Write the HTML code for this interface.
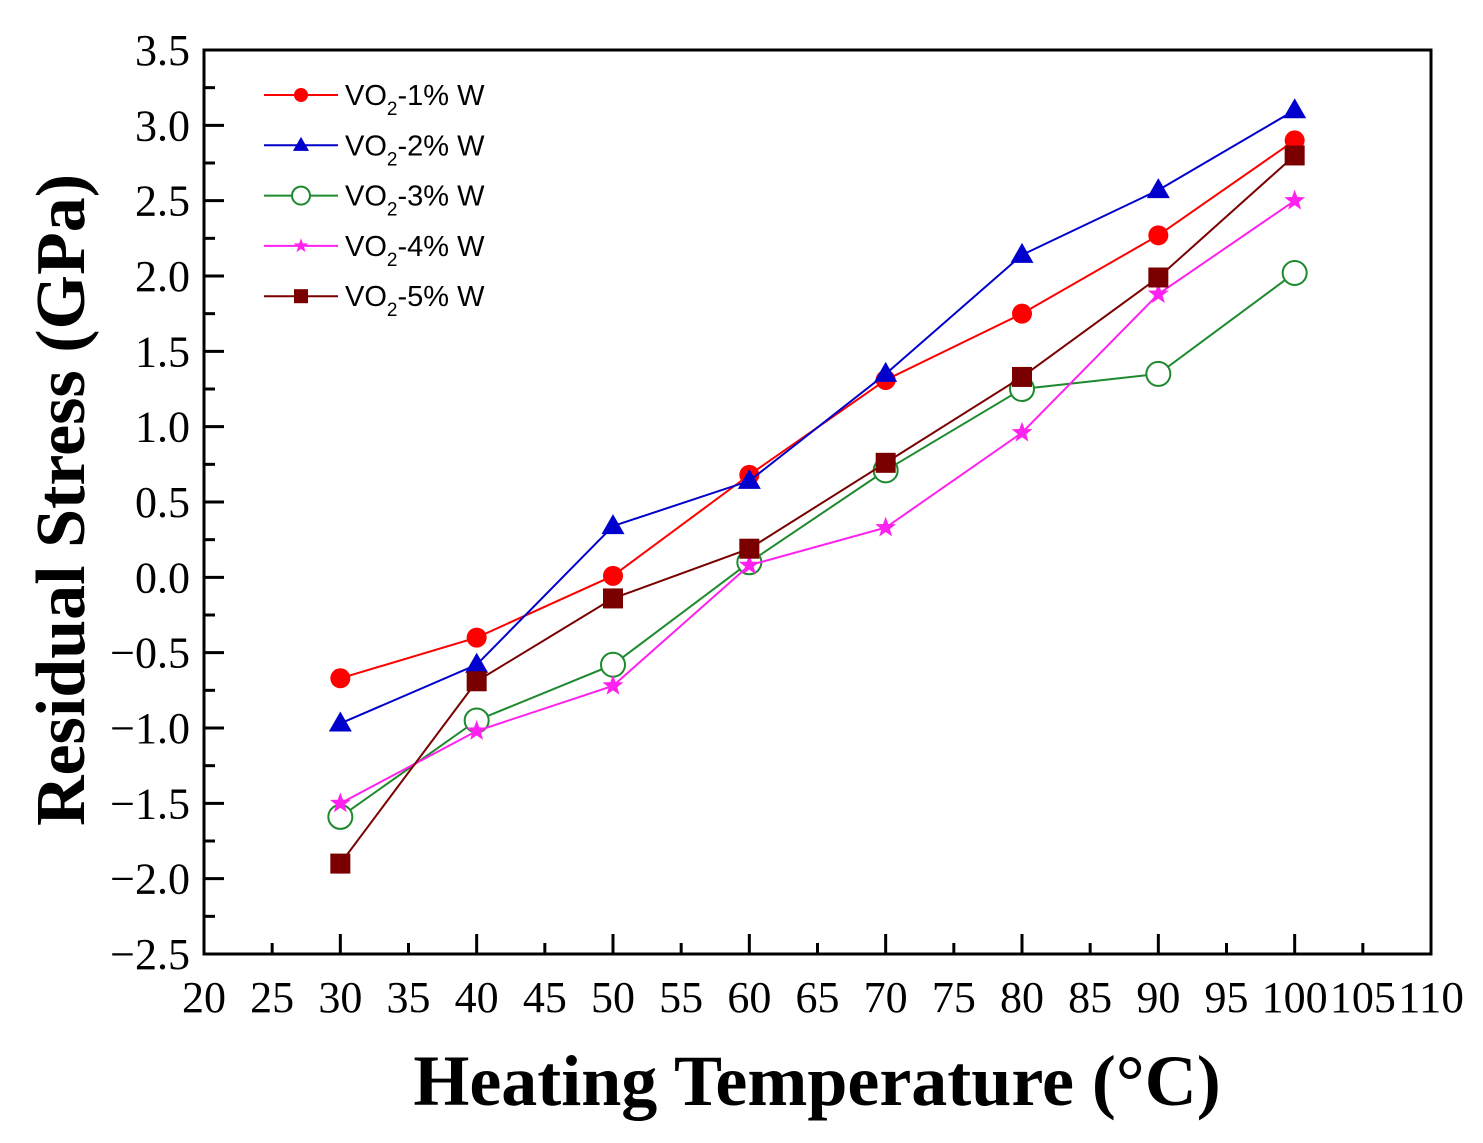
<!DOCTYPE html>
<html><head><meta charset="utf-8"><style>
html,body{margin:0;padding:0;background:#fff}
svg{display:block}
text{font-family:"Liberation Serif",serif}
</style></head><body>
<svg id="chart" width="1483" height="1143">
<rect x="204" y="50" width="1227" height="904" fill="none" stroke="#000" stroke-width="3"/>
<g id="ticks"></g><g id="series"></g><g id="legend"></g>
<text x="84" y="500" font-size="70" font-weight="bold" text-anchor="middle" transform="rotate(-90 84 500)">Residual Stress (GPa)</text>
<text x="817" y="1105" font-size="72" font-weight="bold" text-anchor="middle">Heating Temperature (°C)</text>
</svg>
<script>
const categories=[30,40,50,60,70,80,90,100];
const s1=[-0.67,-0.40,0.01,0.68,1.31,1.75,2.27,2.90];
const s2=[-0.97,-0.58,0.34,0.64,1.35,2.14,2.57,3.10];
const s3=[-1.59,-0.95,-0.58,0.10,0.71,1.25,1.35,2.02];
const s4=[-1.50,-1.02,-0.72,0.08,0.33,0.96,1.88,2.50];
const s5=[-1.90,-0.69,-0.14,0.19,0.76,1.33,1.99,2.80];
const seriesNames=["1%","2%","3%","4%","5%"];
const xTicks=[20,25,30,35,40,45,50,55,60,65,70,75,80,85,90,95,100,105,110];
const yTicks=["-2.5","-2.0","-1.5","-1.0","-0.5","0.0","0.5","1.0","1.5","2.0","2.5","3.0","3.5"];
const NS="http://www.w3.org/2000/svg";
const X=v=>204+(v-20)*(1227/90);
const Y=v=>954-(v+2.5)*(904/6);
function mk(tag,at,parent){const e=document.createElementNS(NS,tag);for(const k in at)e.setAttribute(k,at[k]);parent.appendChild(e);return e;}
const tg=document.getElementById('ticks');
xTicks.forEach((t,i)=>{const x=X(t);const len=i%2==0?20:11;
 const l=mk('line',{x1:x,x2:x,y1:954,y2:954-len,stroke:'#000','stroke-width':3},tg);
 
 
 const tx=mk('text',{x:x,y:1012,'font-size':44,'text-anchor':'middle',textLength:(t>=100?66:44),lengthAdjust:'spacingAndGlyphs'},tg);tx.textContent=t;
 
 });
yTicks.forEach(t=>{const v=parseFloat(t);const y=Y(v);
 const l=mk('line',{x1:204,x2:224,y1:y,y2:y,stroke:'#000','stroke-width':3},tg);
 
 
 if(v<3.5){const m=mk('line',{x1:204,x2:215,y1:Y(v+0.25),y2:Y(v+0.25),stroke:'#000','stroke-width':3},tg);
 
 }
 const tx=mk('text',{x:190,y:y+15,'font-size':44,'text-anchor':'end'},tg);tx.textContent=t.replace('-','−');
 
 });
const cfg=[{d:s1,c:'#ff0000',m:'circle'},{d:s2,c:'#0000cc',m:'tri'},{d:s3,c:'#1e8a2e',m:'ocircle'},{d:s4,c:'#ff22ee',m:'star'},{d:s5,c:'#7a0000',m:'square'}];
function marker(m,x,y,c,r,g){
 if(m=='circle')return mk('circle',{cx:x,cy:y,r:r,fill:c},g);
 if(m=='ocircle')return mk('circle',{cx:x,cy:y,r:r+2,fill:'#fff',stroke:c,'stroke-width':2},g);
 if(m=='square')return mk('rect',{x:x-r,y:y-r,width:2*r,height:2*r,fill:c},g);
 if(m=='tri')return mk('polygon',{points:`${x},${y-r*1.2} ${x-r*1.15},${y+r*0.8} ${x+r*1.15},${y+r*0.8}`,fill:c},g);
 let p=[];for(let i=0;i<10;i++){const a=-Math.PI/2+i*Math.PI/5;const rr=i%2?r*0.45:r*1.1;p.push((x+rr*Math.cos(a))+','+(y+rr*Math.sin(a)));}
 return mk('polygon',{points:p.join(' '),fill:c},g);}
const sg=document.getElementById('series');
cfg.forEach((s,k)=>{const g=mk('g',{},sg);
 
 
 const pl=mk('polyline',{points:categories.map((c,i)=>X(c)+','+Y(s.d[i])).join(' '),fill:'none',stroke:s.c,'stroke-width':2},g);
 
 
 categories.forEach((c,i)=>{const e=marker(s.m,X(c),Y(s.d[i]),s.c,10,g);
 
 });});
const lg=document.getElementById('legend');
cfg.forEach((s,k)=>{const y=95+k*50.3;const g=mk('g',{},lg);
 
 
 mk('line',{x1:264,x2:338,y1:y,y2:y,stroke:s.c,'stroke-width':2},g);
 marker(s.m,301,y,s.c,7,g);
 const t=mk('text',{x:345,y:y+10,'font-size':29,style:'font-family:"Liberation Sans",sans-serif'},g);
 t.innerHTML='VO<tspan dy="10" font-size="19">2</tspan><tspan dy="-10">-'+seriesNames[k]+' W</tspan>';});
</script>
</body></html>
